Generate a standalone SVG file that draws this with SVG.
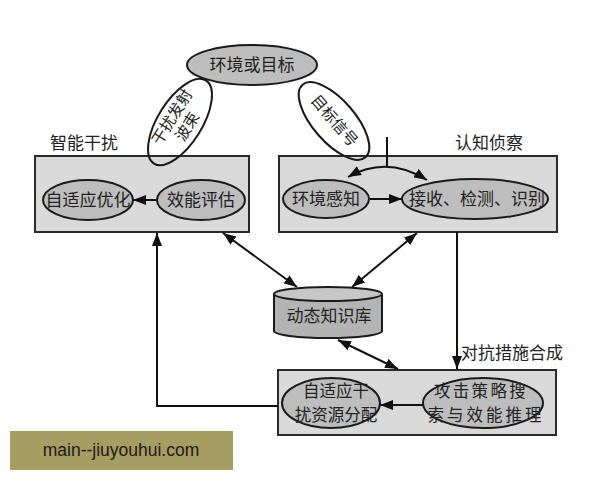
<svg xmlns="http://www.w3.org/2000/svg" width="600" height="480" viewBox="0 0 600 480">
<defs>
<marker id="ah" markerUnits="userSpaceOnUse" markerWidth="13" markerHeight="10" refX="13" refY="5" orient="auto-start-reverse">
<path d="M0,0 L13,5 L0,10 z" fill="#111"/>
</marker>
<style>
.box{fill:#d9d9d9;stroke:#2a2a2a;stroke-width:2}
.el{fill:#bdbdbd;stroke:#1a1a1a;stroke-width:2}
.blob{fill:none;stroke:#1a1a1a;stroke-width:2}
.t{font-family:"Noto Sans CJK SC","Noto Sans",sans-serif;font-size:17px;fill:#222;text-anchor:middle}
.lbl{font-family:"Noto Sans CJK SC","Noto Sans",sans-serif;font-size:17px;fill:#222}
.c{fill:none;stroke:#111;stroke-width:2}
</style>
</defs>
<rect width="600" height="480" fill="#fff"/>

<g id="box-left">
<rect class="box" x="35" y="156" width="214" height="76"/>
<text class="lbl" x="50" y="149">智能干扰</text>
</g>
<g id="box-right">
<rect class="box" x="279" y="156" width="278" height="76"/>
<text class="lbl" x="455" y="149">认知侦察</text>
</g>
<g id="box-bottom">
<rect class="box" x="278" y="370" width="278" height="65"/>
</g>

<g id="connectors">
<line class="c" x1="157" y1="200" x2="133" y2="200" marker-end="url(#ah)"/>
<line class="c" x1="370" y1="199" x2="402" y2="199" marker-end="url(#ah)"/>
<line class="c" x1="423" y1="405" x2="380" y2="405" marker-end="url(#ah)"/>
<line class="c" x1="387" y1="137" x2="387" y2="167"/>
<path class="c" d="M348,177 Q387,155 427,180" marker-start="url(#ah)" marker-end="url(#ah)"/>
<line class="c" x1="223" y1="233" x2="297" y2="287" marker-start="url(#ah)" marker-end="url(#ah)"/>
<line class="c" x1="417" y1="233" x2="352" y2="287" marker-start="url(#ah)" marker-end="url(#ah)"/>
<line class="c" x1="338" y1="340" x2="398" y2="369" marker-start="url(#ah)" marker-end="url(#ah)"/>
<polyline class="c" points="278,406 157,406 157,233" marker-end="url(#ah)"/>
<line class="c" x1="457" y1="232" x2="457" y2="369" marker-end="url(#ah)"/>
<text class="lbl" x="461" y="359">对抗措施合成</text>
</g>

<g id="env-target">
<ellipse class="el" cx="252" cy="65" rx="65" ry="20"/>
<text class="t" x="252" y="71">环境或目标</text>
</g>
<g id="beam">
<ellipse class="blob" cx="180" cy="122" rx="49" ry="22" transform="rotate(-58 180 122)"/>
<g transform="rotate(-58 180 122)">
<text class="t" x="180" y="118" style="font-size:15.5px">干扰发射</text>
<text class="t" x="180" y="136" style="font-size:15.5px">波束</text>
</g>
</g>
<g id="signal">
<ellipse class="blob" cx="334" cy="121" rx="48" ry="21" transform="rotate(49 334 121)"/>
<text class="t" x="334" y="126" style="font-size:15.5px" transform="rotate(49 334 121)">目标信号</text>
</g>

<g id="adaptive-opt">
<ellipse class="el" cx="88" cy="200" rx="45" ry="20"/>
<text class="t" x="88" y="206">自适应优化</text>
</g>
<g id="eval">
<ellipse class="el" cx="201" cy="200" rx="44" ry="20"/>
<text class="t" x="201" y="206">效能评估</text>
</g>
<g id="env-sense">
<ellipse class="el" cx="326" cy="199" rx="43" ry="19"/>
<text class="t" x="326" y="205">环境感知</text>
</g>
<g id="recv">
<ellipse class="el" cx="475" cy="199" rx="73" ry="20"/>
<text class="t" x="477" y="205">接收、检测、识别</text>
</g>
<g id="kb">
<path d="M274,294 L274,331 A54,7 0 0 0 382,331 L382,294" fill="#b3b3b3" stroke="#1a1a1a" stroke-width="2"/>
<ellipse cx="328" cy="294" rx="54" ry="7" fill="#c6c6c6" stroke="#1a1a1a" stroke-width="2"/>
<text class="t" x="329" y="322">动态知识库</text>
</g>
<g id="alloc">
<ellipse class="el" cx="331" cy="403" rx="49" ry="25"/>
<text class="t" x="336" y="397" style="font-size:16.5px">自适应干</text>
<text class="t" x="336" y="421" style="font-size:16.5px">扰资源分配</text>
</g>
<g id="search">
<ellipse class="el" cx="483" cy="403" rx="60" ry="25"/>
<text class="t" x="481" y="397" style="font-size:16.5px;letter-spacing:2.3px">攻击策略搜</text>
<text class="t" x="486" y="421" style="font-size:16.5px;letter-spacing:3px">索与效能推理</text>
</g>

<g id="watermark">
<rect x="10" y="431" width="223" height="39" fill="#a69d60"/>
<text x="121" y="456" font-family="Liberation Sans, Arial, sans-serif" font-size="17.5" fill="#1a1a1a" text-anchor="middle">main--jiuyouhui.com</text>
</g>
</svg>
